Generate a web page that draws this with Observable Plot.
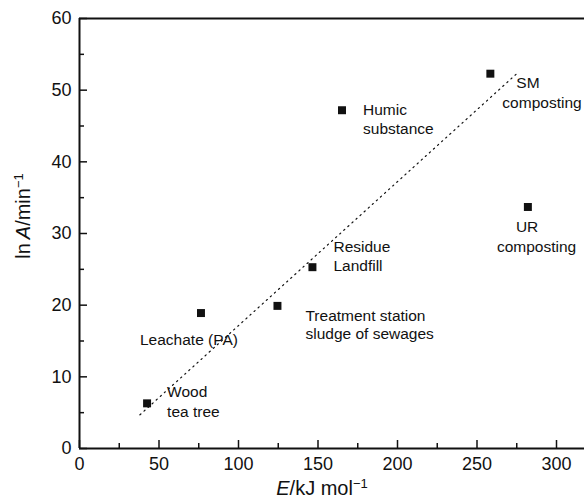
<!DOCTYPE html>
<html>
<head>
<meta charset="utf-8">
<script src="https://cdn.jsdelivr.net/npm/d3@7"></script>
<script src="https://cdn.jsdelivr.net/npm/@observablehq/plot@0.6"></script>
<style>
  html, body { margin: 0; padding: 0; background: #fff; }
  #chart svg { display: block; }
</style>
</head>
<body>
<div id="chart"></div>
<script>
// ---- data ----
const samples = ["Wood tea tree", "Leachate (PA)", "Treatment station sludge of sewages", "Residue Landfill", "Humic substance", "SM composting", "UR composting"];
const energy = [42.5, 76.4, 124.5, 146.5, 165.1, 258.4, 282.0];   // E / kJ mol-1
const lnA    = [6.3, 18.9, 19.9, 25.3, 47.2, 52.3, 33.7];          // ln A / min-1
const labelLines = [
  ["Wood", "tea tree"],
  ["Leachate (PA)"],
  ["Treatment station", "sludge of sewages"],
  ["Residue", "Landfill"],
  ["Humic", "substance"],
  ["SM", "composting"],
  ["UR", "composting"]
];
// dotted regression line end points
const fitE   = [38, 276];
const fitLnA = [4.7, 52.5];
// ticks
const xMajor = [0, 50, 100, 150, 200, 250, 300];
const xMinor = [25, 75, 125, 175, 225, 275];
const yMajor = [0, 10, 20, 30, 40, 50, 60];
const yMinor = [5, 15, 25, 35, 45, 55];

// ---- layout (label offsets in px relative to each point, per line) ----
const labelOffsets = [
  [[20, -11], [20, 9]],
  [[-61, 27]],
  [[28, 10], [28, 28]],
  [[21, -20], [21, -1.5]],
  [[21, 0], [21, 19]],
  [[26, 9.5], [12, 29]],
  [[-12, 20], [-31, 40]]
];

const W = 584, H = 500, mL = 79, mR = 0, mT = 18, mB = 52;
const frameW = W - mL - mR, frameH = H - mT - mB;

const points = samples.map((s, i) => ({sample: s, E: energy[i], lnA: lnA[i]}));
const fit = fitE.map((e, i) => ({E: e, lnA: fitLnA[i]}));

const labelMarks = [];
points.forEach((p, i) => {
  labelLines[i].forEach((t, j) => {
    const [dx, dy] = labelOffsets[i][j];
    labelMarks.push(Plot.text([{...p, t}], {
      x: "E", y: "lnA", text: "t", dx, dy,
      textAnchor: "start", fontSize: 15.5, fill: "#111"
    }));
  });
});

const chart = Plot.plot({
  width: W, height: H,
  marginLeft: mL, marginRight: mR, marginTop: mT, marginBottom: mB,
  style: {fontFamily: "'Liberation Sans', Arial, Helvetica, sans-serif", color: "#111", background: "#fff", overflow: "hidden"},
  x: {domain: [0, (W - mL) / 1.59], axis: null},
  y: {domain: [0, 60], axis: null},
  marks: [
    // tick labels
    Plot.axisX({ticks: xMajor, tickSize: 0, tickPadding: 9, fontSize: 18, tickFormat: d => d, label: null}),
    Plot.axisY({ticks: yMajor, tickSize: 0, tickPadding: 8, fontSize: 18, tickFormat: d => d, label: null}),
    // inward ticks
    Plot.ruleX(xMajor, {x: d => d, insetTop: frameH - 8, strokeWidth: 1.5, stroke: "#111"}),
    Plot.ruleX(xMinor, {x: d => d, insetTop: frameH - 5, strokeWidth: 1.5, stroke: "#111"}),
    Plot.ruleY(yMajor, {y: d => d, insetRight: frameW - 8, strokeWidth: 1.5, stroke: "#111"}),
    Plot.ruleY(yMinor, {y: d => d, insetRight: frameW - 5, strokeWidth: 1.5, stroke: "#111"}),
    // frame lines (left, bottom, top)
    Plot.ruleX([0], {strokeWidth: 2, stroke: "#111"}),
    Plot.ruleY([0, 60], {strokeWidth: 2, stroke: "#111"}),
    // fit line
    Plot.line(fit, {x: "E", y: "lnA", stroke: "#111", strokeWidth: 1.2, strokeDasharray: "1.3,4.2"}),
    // points
    Plot.dot(points, {x: "E", y: "lnA", symbol: "square", r: 4.5, fill: "#111", stroke: "none"}),
    ...labelMarks
  ]
});

document.getElementById("chart").appendChild(chart);

// axis titles with italics and superscripts
const svg = d3.select(chart);
const xt = svg.append("text")
  .attr("x", 322).attr("y", 495)
  .attr("text-anchor", "middle")
  .attr("font-size", 20).attr("fill", "#111");
xt.append("tspan").attr("font-style", "italic").text("E");
xt.append("tspan").text("/kJ mol");
xt.append("tspan").attr("font-size", 13).attr("dy", "-0.55em").text("\u22121");

const yt = svg.append("text")
  .attr("transform", "translate(30,216) rotate(-90)")
  .attr("text-anchor", "middle")
  .attr("font-size", 20).attr("fill", "#111");
yt.append("tspan").text("ln\u2009");
yt.append("tspan").attr("font-style", "italic").text("A");
yt.append("tspan").text("/min");
yt.append("tspan").attr("font-size", 13).attr("dy", "-0.55em").text("\u22121");
</script>
</body>
</html>
